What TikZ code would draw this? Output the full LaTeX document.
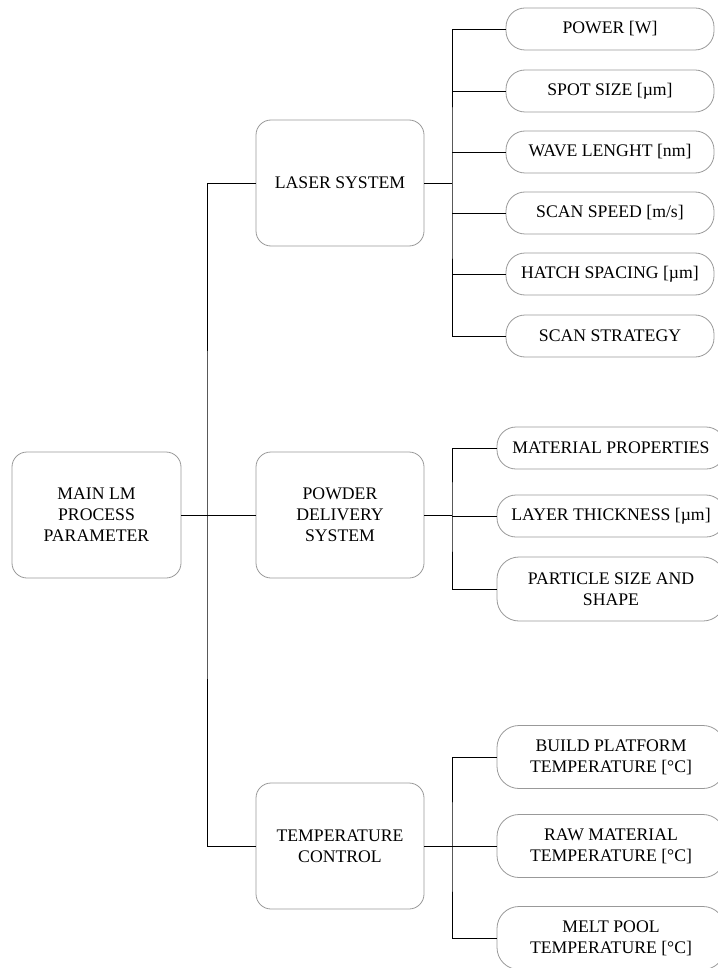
\documentclass[tikz,border=0pt]{standalone}
\usepackage{fontspec}
\setmainfont{Liberation Serif}
\begin{document}
\begin{tikzpicture}[x=1pt,y=-1pt,
  every node/.style={font=\fontsize{17.7}{21}\selectfont, align=center, inner sep=0pt},
  bigbox/.style={draw=black!40, line width=0.8pt, rounded corners=15pt, minimum width=168pt, minimum height=126pt},
  leafbox/.style={draw=black!40, line width=0.8pt, rounded corners=19pt, minimum width=208pt, minimum height=42pt},
  wideleaf/.style={leafbox, minimum width=228pt},
  tallleaf/.style={wideleaf, rounded corners=22pt, minimum height=63pt},
  conn/.style={draw=black, line width=0.9pt}]
\useasboundingbox (0,0) rectangle (717,968);

\node[bigbox, minimum width=169pt] (main) at (96.5,515) {MAIN LM\\PROCESS\\PARAMETER};
\node[bigbox] (laser) at (340,183) {LASER SYSTEM};
\node[bigbox] (powder) at (340,515) {POWDER\\DELIVERY\\SYSTEM};
\node[bigbox] (temp) at (340,846) {TEMPERATURE\\CONTROL};

\node[leafbox] (l1) at (610,29) {POWER [W]};
\node[leafbox] (l2) at (610,91) {SPOT SIZE [\textmu m]};
\node[leafbox] (l3) at (610,152) {WAVE LENGHT [nm]};
\node[leafbox] (l4) at (610,213) {SCAN SPEED [m/s]};
\node[leafbox] (l5) at (610,274) {HATCH SPACING [\textmu m]};
\node[leafbox] (l6) at (610,336) {SCAN STRATEGY};

\node[wideleaf] (p1) at (611,448) {MATERIAL PROPERTIES};
\node[wideleaf] (p2) at (611,516) {LAYER THICKNESS [\textmu m]};
\node[tallleaf, minimum height=64pt] (p3) at (611,589) {PARTICLE SIZE AND\\SHAPE};

\node[tallleaf] (t1) at (611,757) {BUILD PLATFORM\\TEMPERATURE [°C]};
\node[tallleaf] (t2) at (611,846) {RAW MATERIAL\\TEMPERATURE [°C]};
\node[tallleaf] (t3) at (611,938) {MELT POOL\\TEMPERATURE [°C]};

\coordinate (trunk) at (207,515);
\coordinate (bl) at (452,183);
\coordinate (bp) at (452,515);
\coordinate (bt) at (452,846);

\draw[conn] (main.east) -- (powder.west);
\draw[conn] (laser.west) -| (trunk) |- (temp.west);

\draw[conn] (laser.east) -- (bl);
\draw[conn] (l1.west) -| (bl) |- (l6.west);
\draw[conn] (l2.west) -- (l2.west -| bl);
\draw[conn] (l3.west) -- (l3.west -| bl);
\draw[conn] (l4.west) -- (l4.west -| bl);
\draw[conn] (l5.west) -- (l5.west -| bl);

\draw[conn] (powder.east) -- (bp);
\draw[conn] (p1.west) -| (bp) |- (p3.west);
\draw[conn] (p2.west) -- (p2.west -| bp);

\draw[conn] (temp.east) -- (bt);
\draw[conn] (t1.west) -| (bt) |- (t3.west);
\draw[conn] (t2.west) -- (t2.west -| bt);
\end{tikzpicture}
\end{document}
